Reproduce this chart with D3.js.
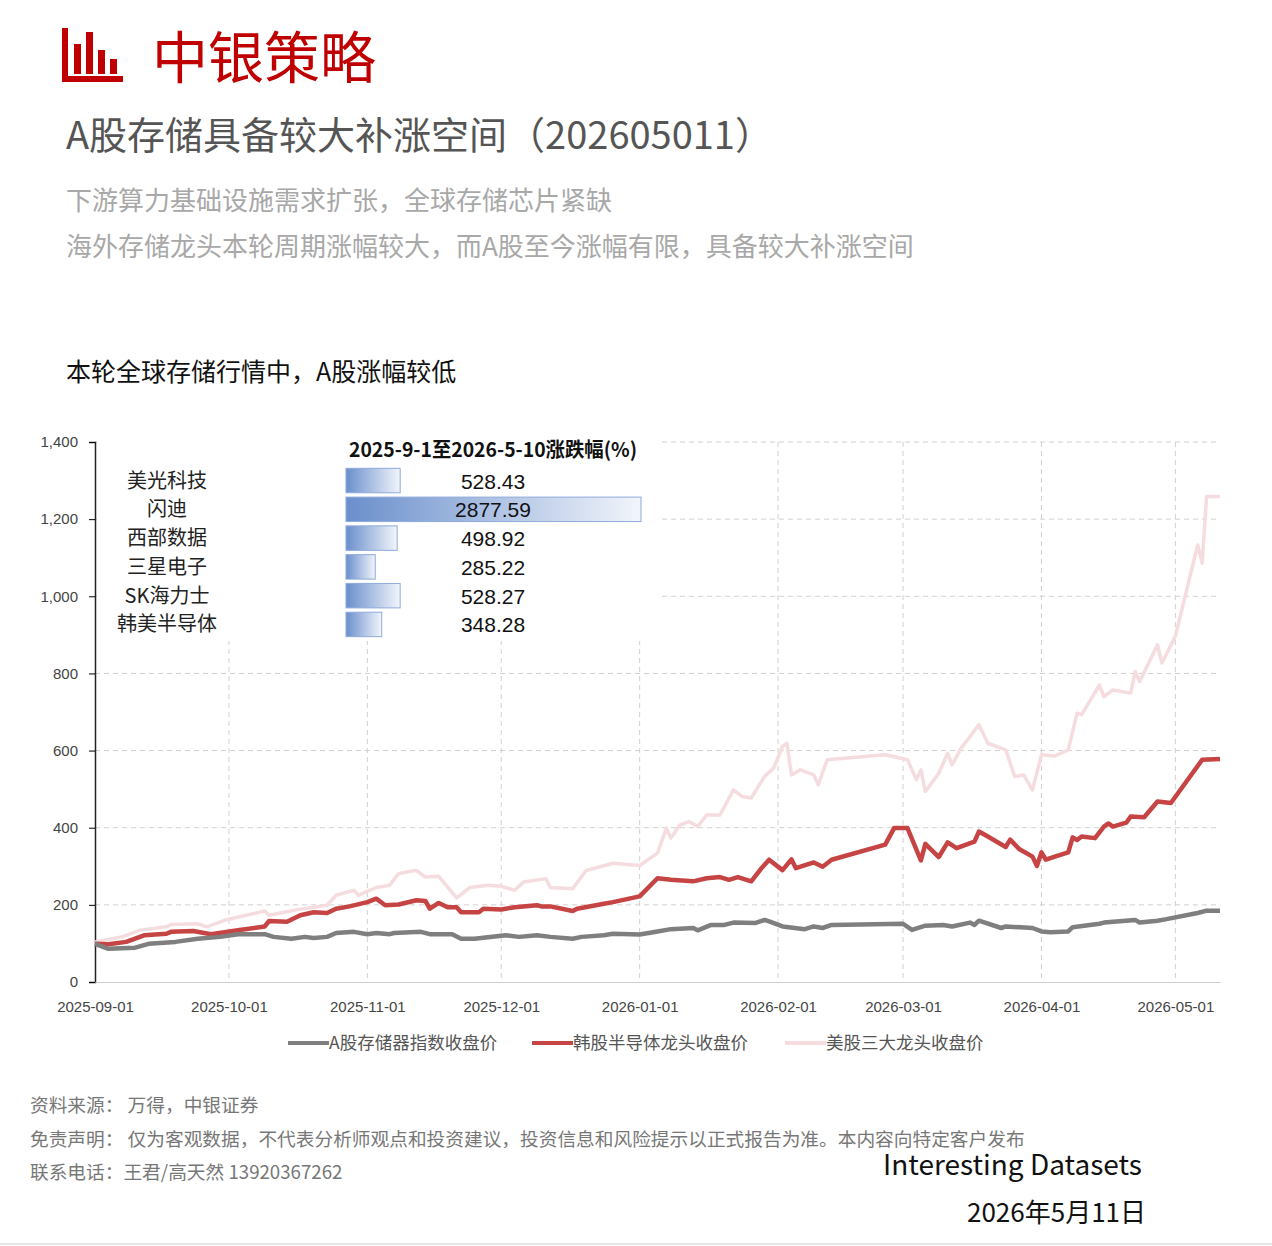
<!DOCTYPE html>
<html><head><meta charset="utf-8">
<script src="https://cdn.jsdelivr.net/npm/d3@7"></script>
<style>body{margin:0;background:#fff;}svg{display:block;font-family:"Noto Sans CJK SC","Noto Sans",sans-serif;}</style>
</head><body><svg id="c" width="1272" height="1246"></svg>
<script>
// ---- data ----
const startDate = "2025-09-01";
const yTicks = [0,200,400,600,800,1000,1200,1400];
const xTickDates = ["2025-09-01","2025-10-01","2025-11-01","2025-12-01","2026-01-01","2026-02-01","2026-03-01","2026-04-01","2026-05-01"];
const seriesNames = ["A股存储器指数收盘价","韩股半导体龙头收盘价","美股三大龙头收盘价"];
// [days since 2025-09-01, value]
const aShare = [[0,99],[3,86],[9,89],[12,99],[18,104],[23,112],[28,117],[32,124],[38,124],[40,117],[44,112],[47,117],[49,114],[52,117],[54,127],[58,130],[61,124],[63,127],[66,124],[67,127],[73,130],[75,124],[80,124],[82,112],[85,112],[92,121],[95,117],[99,121],[102,117],[107,112],[109,117],[114,121],[116,125],[122,123],
[126,131],[129,137],[134,140],[135,134],[138,148],[141,148],[143,154],[148,153],[150,161],[151,157],[154,144],[159,137],[161,144],[163,140],[165,148],[181,151],[183,135],[186,146],[190,148],[192,144],[196,154],[197,148],[198,159],[203,140],[204,144],[210,140],[212,131],[214,129],[218,131],[219,142],[225,151],[226,154],[233,161],[234,154],[238,159],[240,163],[247,179],[249,185],[252,185]];
const korea = [[0,99],[3,98],[7,104],[11,121],[16,125],[17,130],[22,132],[26,124],[32,134],[38,144],[39,158],[43,156],[46,173],[49,181],[52,179],[54,190],[57,196],[61,207],[63,216],[65,199],[68,201],[72,212],[74,210],[75,190],[77,205],[79,194],[81,194],[82,181],[86,181],[87,190],[91,188],[94,194],[99,199],[100,196],[102,196],[107,184],[108,190],[114,203],[116,207],[122,222],
[126,269],[129,265],[134,261],[137,269],[140,272],[142,265],[144,272],[147,261],[149,291],[151,317],[154,290],[156,318],[157,295],[161,310],[163,299],[165,317],[177,356],[179,399],[182,399],[185,315],[186,358],[189,324],[191,362],[193,347],[197,364],[198,390],[200,377],[204,350],[205,369],[207,345],[210,325],[211,301],[212,336],[213,317],[215,325],[218,336],[219,375],[220,368],[221,377],[224,373],[226,403],[227,411],[228,403],[231,413],[232,429],[235,427],[238,468],[241,464],[248,576],[252,578]];
const us = [[0,104],[6,117],[10,134],[16,143],[17,149],[23,151],[25,143],[29,160],[38,184],[39,173],[45,187],[52,199],[54,225],[58,238],[59,225],[63,245],[66,251],[68,281],[71,288],[72,289],[74,272],[77,274],[81,218],[84,245],[88,251],[91,248],[94,238],[96,259],[101,268],[102,245],[107,242],[110,289],[116,308],[122,302],
[126,334],[128,399],[129,373],[131,407],[133,416],[135,403],[137,433],[140,433],[143,498],[145,481],[147,477],[150,533],[152,554],[154,611],[155,619],[156,537],[158,550],[161,537],[162,511],[164,576],[177,589],[182,576],[184,524],[185,550],[186,494],[189,541],[191,593],[192,563],[194,606],[196,636],[198,667],[200,619],[204,602],[206,533],[208,537],[210,498],[212,589],[215,586],[218,602],[220,697],[221,693],[225,770],[226,740],[228,757],[232,749],[233,805],[234,779],[238,874],[239,827],[242,896],[244,991],[247,1133],[248,1086],[249,1259],[252,1259]];
const tableTitle = "2025-9-1至2026-5-10涨跌幅(%)";
const companies = ["美光科技","闪迪","西部数据","三星电子","SK海力士","韩美半导体"];
const gains = [528.43,2877.59,498.92,285.22,528.27,348.28];

// ---- drawing ----
const svg = d3.select("#c");
const parse = d3.timeParse("%Y-%m-%d");
const t0 = parse(startDate);
const toDate = d => d3.timeDay.offset(t0, d);
const x = d3.scaleTime().domain([t0, parse("2026-05-11")]).range([95,1220]);
const y = d3.scaleLinear().domain([0,1400]).range([982,442]);

// header
const ic = svg.append("g").attr("fill","#c00000");
ic.append("rect").attr("x",62).attr("y",28).attr("width",6).attr("height",54);
ic.append("rect").attr("x",62).attr("y",76).attr("width",61).attr("height",6);
[[74,44,7],[86,32,7],[98,50,7],[110,59,7]].forEach(b=>ic.append("rect").attr("x",b[0]).attr("y",b[1]).attr("width",b[2]).attr("height",74-b[1]));
svg.append("text").attr("x",152).attr("y",78).attr("font-size",56).attr("fill","#c00000").text("中银策略");
svg.append("text").attr("x",66).attr("y",149).attr("font-size",38).attr("fill","#555").text("A股存储具备较大补涨空间（202605011）");
svg.append("text").attr("x",66).attr("y",210).attr("font-size",26).attr("fill","#a8a8a8").text("下游算力基础设施需求扩张，全球存储芯片紧缺");
svg.append("text").attr("x",66).attr("y",256).attr("font-size",26).attr("fill","#a8a8a8").text("海外存储龙头本轮周期涨幅较大，而A股至今涨幅有限，具备较大补涨空间");
svg.append("text").attr("x",66).attr("y",381).attr("font-size",25).attr("fill","#111").text("本轮全球存储行情中，A股涨幅较低");

// grid
const grid = svg.append("g").attr("stroke","#d0d0d0").attr("stroke-dasharray","5,4").attr("stroke-width",1);
yTicks.slice(1).forEach(v=>grid.append("line").attr("x1",95).attr("x2",1220).attr("y1",y(v)).attr("y2",y(v)));
xTickDates.slice(1).forEach(s=>grid.append("line").attr("x1",x(parse(s))).attr("x2",x(parse(s))).attr("y1",442).attr("y2",982));

// axes
const ya = svg.append("g").attr("transform","translate(95,0)").call(d3.axisLeft(y).tickValues(yTicks).tickFormat(d3.format(",")).tickSize(6));
ya.select(".domain").attr("stroke","#222").attr("stroke-width",1.5);
ya.selectAll("text").attr("font-size",15).attr("fill","#444").attr("font-family","Liberation Sans, Arial").attr("dx",-8);
const xa = svg.append("g").attr("transform","translate(0,982)").call(d3.axisBottom(x).tickValues(xTickDates.map(parse)).tickFormat(d3.timeFormat("%Y-%m-%d")).tickSize(0));
xa.select(".domain").attr("stroke","#ccc");
xa.selectAll("text").attr("font-size",15).attr("fill","#444").attr("font-family","Liberation Sans, Arial").attr("dy",27);

// lines
const line = d3.line().x(d=>x(toDate(d[0]))).y(d=>y(d[1]));
const styles = [["#f5dcde",3.5,us],["#c64444",4.5,korea],["#7f7f7f",4.5,aShare]];
styles.forEach(s=>svg.append("path").datum(s[2]).attr("d",line).attr("fill","none").attr("stroke",s[0]).attr("stroke-width",s[1]).attr("stroke-linejoin","round"));

// inset table
svg.append("rect").attr("x",97).attr("y",436).attr("width",565).attr("height",205).attr("fill","#fff");
const grad = svg.append("defs").append("linearGradient").attr("id","bg");
grad.append("stop").attr("offset","0%").attr("stop-color","#6a8fcc");
grad.append("stop").attr("offset","100%").attr("stop-color","#f2f5fb");
const bx = d3.scaleLinear().domain([0,2877.59]).range([0,295]);
const by = d3.scaleBand().domain(companies).range([464,641]).padding(0.15);
svg.append("text").attr("x",493).attr("y",457).attr("text-anchor","middle").attr("font-size",20).attr("font-weight","bold").attr("fill","#111").attr("textLength",288).attr("lengthAdjust","spacingAndGlyphs").text(tableTitle);
companies.forEach((c,i)=>{
  const yy = by(c);
  svg.append("rect").attr("x",346).attr("y",yy).attr("width",bx(gains[i])).attr("height",by.bandwidth()).attr("fill","url(#bg)").attr("stroke","#8eaadb").attr("stroke-width",1);
  svg.append("text").attr("x",167).attr("y",yy+by.bandwidth()/2+7).attr("text-anchor","middle").attr("font-size",20).attr("fill","#222").text(c);
  svg.append("text").attr("x",493).attr("y",yy+by.bandwidth()/2+8).attr("text-anchor","middle").attr("font-size",21).attr("fill","#111").attr("font-family","Liberation Sans Narrow, Liberation Sans").text(gains[i].toFixed(2));
});

// legend
const legX = [288,532,785];
const legC = ["#7f7f7f","#c64444","#f5dcde"];
seriesNames.forEach((n,i)=>{
  svg.append("line").attr("x1",legX[i]).attr("x2",legX[i]+41).attr("y1",1043).attr("y2",1043).attr("stroke",legC[i]).attr("stroke-width",4);
  svg.append("text").attr("x",legX[i]+41).attr("y",1049).attr("font-size",17.5).attr("fill","#555").text(n);
});

// footer
[["资料来源： 万得，中银证券",1112],["免责声明： 仅为客观数据，不代表分析师观点和投资建议，投资信息和风险提示以正式报告为准。本内容向特定客户发布",1146],["联系电话：王君/高天然 13920367262",1179]].forEach(f=>
  svg.append("text").attr("x",30).attr("y",f[1]).attr("font-size",18.7).attr("fill","#777").text(f[0]));
svg.append("text").attr("x",883).attr("y",1175).attr("font-size",28).attr("fill","#111").text("Interesting Datasets");
svg.append("text").attr("x",967).attr("y",1222).attr("font-size",26).attr("fill","#111").text("2026年5月11日");
svg.append("line").attr("x1",0).attr("x2",1272).attr("y1",1244).attr("y2",1244).attr("stroke","#ccc");
</script></body></html>
